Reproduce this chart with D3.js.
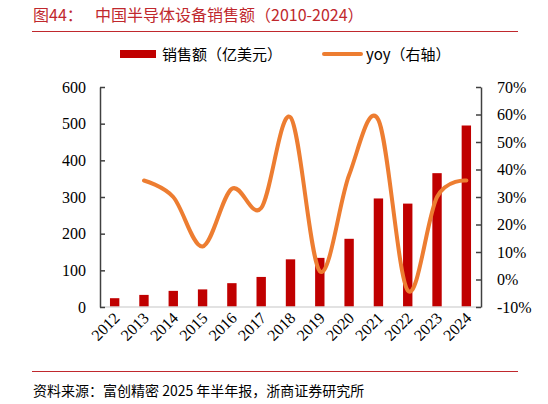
<!DOCTYPE html>
<html>
<head>
<meta charset="utf-8">
<script src="https://cdn.jsdelivr.net/npm/d3@7"></script>
<style>
  body { margin: 0; background: #fff; }
  svg { display: block; }
  .num { font-family: "Liberation Serif", "Times New Roman", serif; font-size: 16px; fill: #000; }
  .cjk { font-family: "Noto Sans CJK SC", sans-serif; }
</style>
</head>
<body>
<svg class="container" width="548" height="404"></svg>
<script>
let years = ["2012", "2013", "2014", "2015", "2016", "2017", "2018", "2019", "2020", "2021", "2022", "2023", "2024"];
let sales = [24, 33, 44, 48, 65, 82, 130, 134, 186, 296, 282, 365, 495];
let yoyYears = ["2013", "2014", "2015", "2016", "2017", "2018", "2019", "2020", "2021", "2022", "2023", "2024"];
let yoy = [36, 30, 12, 33, 26, 59, 3, 38, 58, -4, 30, 36];
let leftTicks = [0, 100, 200, 300, 400, 500, 600];
let rightTicks = [-10, 0, 10, 20, 30, 40, 50, 60, 70];

let plotLeft = 100;
let plotRight = 481;
let plotTop = 87;
let plotBottom = 307;
let barColor = "#C00000";
let lineColor = "#ED7D31";
let titleColor = "#C0282D";

let svg = d3.select(".container");

let x = d3.scaleBand()
    .domain(years)
    .range([plotLeft, plotRight])
    .paddingInner(0.68)
    .paddingOuter(0.34);
let yLeft = d3.scaleLinear().domain([0, 600]).range([plotBottom, plotTop]);
let yRight = d3.scaleLinear().domain([-10, 70]).range([plotBottom, plotTop]);

// title
svg.append("text")
    .attr("class", "cjk")
    .attr("x", 33)
    .attr("y", 21)
    .style("font-size", "16px")
    .style("fill", titleColor)
    .text("图44：");
svg.append("text")
    .attr("class", "cjk")
    .attr("x", 95)
    .attr("y", 21)
    .style("font-size", "16px")
    .style("fill", titleColor)
    .text("中国半导体设备销售额（2010-2024）");
svg.append("line")
    .attr("x1", 32).attr("x2", 518)
    .attr("y1", 31.5).attr("y2", 31.5)
    .style("stroke", titleColor)
    .style("stroke-width", 1);

// legend
svg.append("rect")
    .attr("x", 120).attr("y", 50)
    .attr("width", 36).attr("height", 8)
    .style("fill", barColor);
svg.append("text")
    .attr("class", "cjk")
    .attr("x", 162).attr("y", 60)
    .style("font-size", "15px")
    .text("销售额（亿美元）");
svg.append("line")
    .attr("x1", 324).attr("x2", 361)
    .attr("y1", 54).attr("y2", 54)
    .style("stroke", lineColor)
    .style("stroke-width", 4)
    .style("stroke-linecap", "round");
svg.append("text")
    .attr("class", "cjk")
    .attr("x", 366).attr("y", 60)
    .style("font-size", "15px")
    .text("yoy（右轴）");

// bars
svg.append("g")
    .selectAll("rect")
    .data(years)
    .enter()
    .append("rect")
    .attr("x", d => x(d))
    .attr("width", x.bandwidth())
    .attr("y", (d, i) => yLeft(sales[i]))
    .attr("height", (d, i) => yLeft(0) - yLeft(sales[i]))
    .style("fill", barColor);

// bottom axis line
svg.append("line")
    .attr("x1", plotLeft).attr("x2", plotRight)
    .attr("y1", plotBottom).attr("y2", plotBottom)
    .style("stroke", "#D9D9D9")
    .style("stroke-width", 1.5);

// x labels
svg.append("g")
    .selectAll("text")
    .data(years)
    .enter()
    .append("text")
    .attr("class", "num")
    .attr("text-anchor", "end")
    .attr("transform", d => "translate(" + (x(d) + x.bandwidth() / 2 + 6) + "," + (plotBottom + 12) + ") rotate(-45)")
    .text(d => d);

// left axis
let leftAxis = svg.append("g")
    .attr("transform", "translate(" + plotLeft + ",0)")
    .call(d3.axisLeft(yLeft).tickValues(leftTicks).tickSizeInner(-5).tickSizeOuter(0).tickPadding(14));
// right axis
let rightAxis = svg.append("g")
    .attr("transform", "translate(" + plotRight + ",0)")
    .call(d3.axisRight(yRight).tickValues(rightTicks).tickFormat(d => d + "%").tickSizeInner(-5).tickSizeOuter(0).tickPadding(16));

[leftAxis, rightAxis].forEach(g => {
    g.select(".domain").style("stroke", "#404040").style("stroke-width", 1.5);
    g.selectAll(".tick line").style("stroke", "#404040").style("stroke-width", 1.5);
    g.selectAll(".tick text")
        .attr("class", "num")
        .style("font-family", "'Liberation Serif', serif")
        .style("font-size", "16px")
        .style("fill", "#000");
});

// yoy line
let line = d3.line()
    .x(d => x(d[0]) + x.bandwidth() / 2)
    .y(d => yRight(d[1]))
    .curve(d3.curveCardinal.tension(0));
svg.append("path")
    .datum(yoyYears.map((d, i) => [d, yoy[i]]))
    .attr("d", line)
    .style("fill", "none")
    .style("stroke", lineColor)
    .style("stroke-width", 4)
    .style("stroke-linecap", "round");

// footer
svg.append("line")
    .attr("x1", 32).attr("x2", 518)
    .attr("y1", 371.5).attr("y2", 371.5)
    .style("stroke", titleColor)
    .style("stroke-width", 1);
svg.append("text")
    .attr("class", "cjk")
    .attr("x", 33).attr("y", 396)
    .style("font-size", "14px")
    .text("资料来源：富创精密 2025 年半年报，浙商证券研究所");
</script>
</body>
</html>
